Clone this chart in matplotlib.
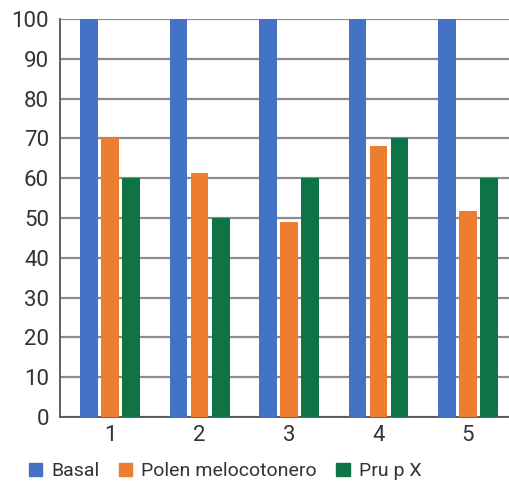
import numpy as np
import matplotlib.pyplot as plt
from matplotlib.patches import Patch

plt.rcParams['font.family'] = ['Roboto', 'DejaVu Sans']

groups = ['1', '2', '3', '4', '5']
series_names = ['Basal', 'Polen melocotonero', 'Pru p X']
basal = [100, 100, 100, 100, 100]
polen = [70, 61.2, 49, 68.1, 51.8]
prup = [60, 50, 60, 70, 60]
colors = ['#4472c4', '#ed7d31', '#0e7345']

fig = plt.figure(figsize=(5.09, 4.88), dpi=100)
ax = fig.add_axes([0.1179, 0.1455, 0.8821, 0.8155])

x = np.arange(1, len(groups) + 1)
w = 0.2
step = 0.235
for i, (vals, c) in enumerate(zip([basal, polen, prup], colors)):
    ax.bar(x + (i - 1) * step, vals, width=w, color=c, zorder=3)

ax.set_xlim(0.441, 5.458)
ax.set_ylim(0, 100)
ax.set_yticks(range(0, 101, 10))
ax.set_xticks(x)
ax.set_xticklabels(groups)
ax.yaxis.grid(True, color='#8c8c8c', linewidth=1.6, zorder=0)
ax.tick_params(length=0, labelsize=16, colors='#333333', pad=8)
ax.tick_params(axis='x', pad=6)
for s in ['top', 'right']:
    ax.spines[s].set_visible(False)
for s in ['left', 'bottom']:
    ax.spines[s].set_color('#555555')
    ax.spines[s].set_linewidth(1.3)

# legend along the bottom, square handles
handles = [Patch(color=c, label=n) for c, n in zip(colors, series_names)]
fig.legend(handles=handles, loc='lower left', bbox_to_anchor=(0.022, -0.02),
           ncol=3, frameon=False, fontsize=14, handlelength=0.7,
           handleheight=0.7, handletextpad=0.45, columnspacing=1.0,
           labelcolor='#333333')

fig.savefig('out.png', dpi=100)
